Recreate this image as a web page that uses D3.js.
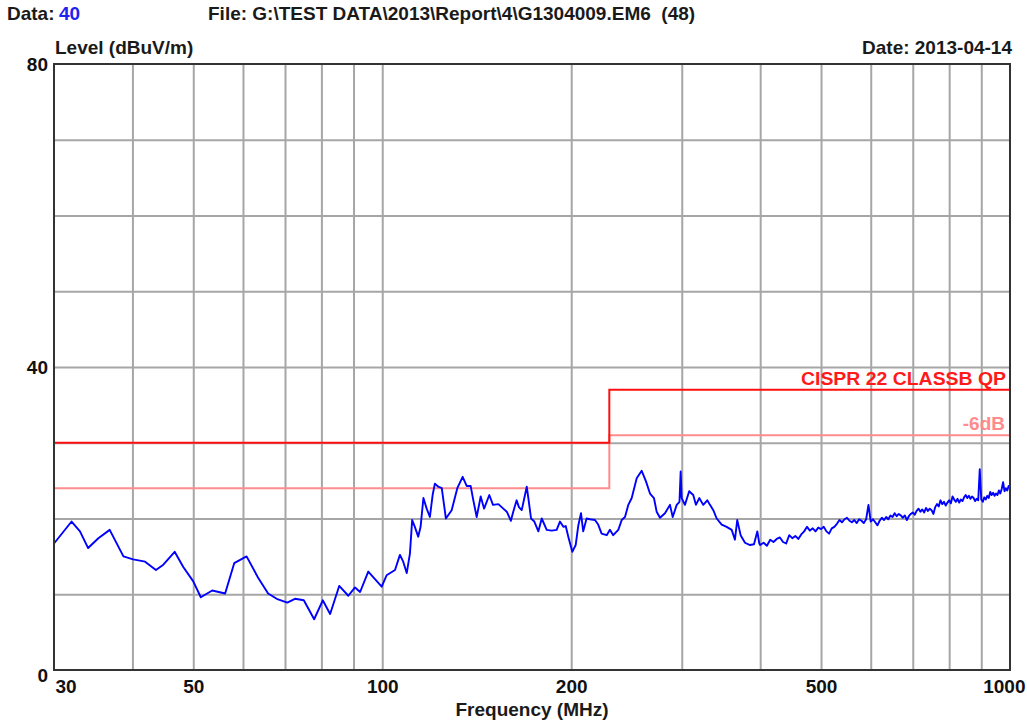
<!DOCTYPE html>
<html>
<head>
<meta charset="utf-8">
<script src="https://cdn.jsdelivr.net/npm/d3@7/dist/d3.min.js"></script>
<style>
html,body{margin:0;padding:0;background:#fff;}
svg{display:block;}
text{font-family:"Liberation Sans",Arial,sans-serif;font-weight:bold;font-size:19px;}
</style>
</head>
<body>
<svg id="chart" width="1027" height="722"></svg>
<script>
// ---- data ----
const freqs = [
30.0,32.0,33.0,34.0,35.3,36.8,38.7,40.1,41.9,43.6,44.8,46.7,48.2,50.0,51.4,53.6,56.2,58.1,60.8,63.5,
65.8,67.9,70.6,72.6,75.0,77.9,80.4,82.6,85.4,88.3,90.5,92.2,95.0,99.8,101.6,
104.8,106.7,108.0,109.4,110.7,111.6,112.7,114.1,115.1,116.3,117.7,119.1,120.3,121.3,122.8,124.4,126.3,129.0,131.7,134.3,
136.3,138.3,139.6,141.4,143.5,145.3,148.1,150.1,153.1,155.9,157.9,160.3,161.7,163.7,165.1,166.8,169.9,170.9,172.6,174.7,
177.3,179.5,182.8,186.2,189.6,191.9,194.3,196.0,198.0,200.8,203.3,205.2,207.3,209.0,211.6,214.2,218.2,220.8,223.6,227.8,
230.5,233.3,237.7,240.7,243.6,246.6,249.7,254.3,259.0,263.1,267.0,270.9,273.6,277.0,282.1,287.3,290.2,294.5,297.5,298.8,
299.9,303.5,308.3,312.9,316.0,319.9,324.6,329.4,332.7,336.8,341.0,347.3,353.7,360.3,364.6,367.7,372.3,378.3,385.3,391.0,
395.8,398.7,
400,405,410,415,420,425,430,435,440,445,450,455,460,465,470,475,480,485,490,495,
500,505,510,515,520,525,530,535,540,545,550,555,560,565,570,575,580,585,590,595,
600,605,610,615,620,625,630,635,640,645,650,655,660,665,670,675,680,685,690,695,
700,705,710,715,720,725,730,735,740,745,750,755,760,765,770,775,780,785,790,795,
800,805,810,815,820,825,830,835,840,845,850,855,860,865,870,875,880,885,890,895,
900,905,910,915,920,925,930,935,940,945,950,955,960,965,970,975,980,985,990,995,1000
];
const levels = [
16.7,19.6,18.3,16.1,17.4,18.5,15.0,14.6,14.3,13.2,13.9,15.6,13.6,11.7,9.6,10.5,10.1,14.1,15.0,12.1,
10.1,9.4,8.9,9.4,9.2,6.7,9.2,7.4,11.1,9.8,10.9,10.3,13.0,11.0,12.5,
13.2,15.2,14.3,12.8,15.4,19.8,18.9,17.6,18.9,22.7,21.3,20.2,23.1,24.6,24.2,24.0,20.0,21.1,24.0,25.5,
24.3,24.3,22.5,20.2,22.9,21.3,23.1,21.8,21.9,21.3,20.9,19.7,20.9,22.4,21.5,21.1,24.2,22.7,20.0,19.6,
18.3,20.0,18.5,18.4,18.5,19.6,18.9,19.0,17.5,15.6,16.5,19.0,20.7,18.3,20.0,19.9,19.8,19.2,18.0,17.8,
18.5,17.8,18.5,19.8,20.2,21.8,22.7,25.3,26.3,24.9,23.3,22.7,20.9,20.1,20.7,21.8,20.2,21.8,22.2,26.2,
22.7,21.8,23.6,23.1,21.8,22.7,21.8,22.4,21.8,21.1,20.0,19.2,18.9,18.5,17.2,19.8,17.8,16.8,16.5,16.6,
18.3,16.7,
16.5,16.8,16.4,17.2,16.9,17.3,17.5,16.9,16.7,17.8,17.4,17.7,17.3,17.9,18.3,18.9,18.4,18.7,18.3,18.8,
18.6,18.9,18.3,18.0,18.7,18.9,19.3,19.8,19.5,19.9,20.1,19.7,19.5,19.8,19.4,19.9,19.7,19.4,19.9,21.8,
19.6,19.9,19.5,19.1,19.7,20.1,19.8,20.2,19.9,20.4,20.2,20.7,20.3,20.6,20.4,20.1,20.4,19.8,20.3,20.6,
20.8,20.5,21.0,21.3,20.9,21.2,20.8,21.4,21.0,21.3,21.1,20.6,21.5,21.9,21.6,22.4,21.9,22.2,21.7,22.1,
22.4,22.0,22.9,22.5,22.2,22.6,22.1,22.5,22.3,22.8,23.1,22.7,23.0,22.6,22.9,22.7,22.3,22.6,22.4,26.5,
22.5,22.2,22.8,22.5,23.0,22.7,23.5,23.1,23.4,23.0,23.3,23.1,23.7,23.3,23.9,24.8,23.6,24.0,23.7,24.3,24.2
];
const limitFreqs = [30, 230, 230, 1000];
const limitLevels = [30, 30, 37, 37];
const marginDb = 6;
const gridFreqs = [40,50,60,70,80,90,100,200,300,400,500,600,700,800,900];
const gridLevels = [10,20,30,40,50,60,70];
const xTickLabels = [30,50,100,200,500,1000];
const yTickLabels = [0,40,80];

// ---- layout ----
const L = 54, R = 1010, T = 64, B = 670;
const svg = d3.select("#chart");
const x = d3.scaleLog().domain([30,1000]).range([L,R]);
const y = d3.scaleLinear().domain([0,80]).range([B,T]);

// header texts
const hdr = svg.append("text").attr("x",7).attr("y",20);
hdr.append("tspan").attr("fill","#1a1a1a").text("Data:");
hdr.append("tspan").attr("x",59).attr("fill","#2222ee").text("40");
svg.append("text").attr("x",208).attr("y",20).attr("fill","#1a1a1a")
  .style("white-space","pre").text("File: G:\\TEST DATA\\2013\\Report\\4\\G1304009.EM6  (48)");
svg.append("text").attr("x",55).attr("y",54).attr("fill","#1a1a1a").text("Level (dBuV/m)");
svg.append("text").attr("x",1012).attr("y",54).attr("text-anchor","end").attr("fill","#1a1a1a").text("Date: 2013-04-14");

// grid
const gx = svg.append("g").attr("transform",`translate(0,${B})`)
  .call(d3.axisBottom(x).tickValues(gridFreqs).tickSize(-(B-T)).tickFormat(""));
gx.select(".domain").remove();
gx.selectAll("line").attr("stroke","#a6a6a6").attr("stroke-width",2);
const gy = svg.append("g").attr("transform",`translate(${L},0)`)
  .call(d3.axisLeft(y).tickValues(gridLevels).tickSize(-(R-L)).tickFormat(""));
gy.select(".domain").remove();
gy.selectAll("line").attr("stroke","#a6a6a6").attr("stroke-width",2);

// limit lines
const lim = limitFreqs.map((f,i)=>({f, v:limitLevels[i]}));
const line = d3.line().x(d=>x(d.f)).y(d=>y(d.v));
svg.append("path").datum(lim.map(d=>({f:d.f, v:d.v-marginDb})))
  .attr("d",line).attr("fill","none").attr("stroke","#ff8c8c").attr("stroke-width",2);
svg.append("path").datum(lim)
  .attr("d",line).attr("fill","none").attr("stroke","#ff1010").attr("stroke-width",2);
svg.append("text").attr("x",1006).attr("y",y(limitLevels[3])-5).attr("text-anchor","end")
  .attr("fill","#ff1a1a").attr("textLength",205).attr("lengthAdjust","spacingAndGlyphs").text("CISPR 22 CLASSB QP");
svg.append("text").attr("x",1005).attr("y",y(limitLevels[3]-marginDb)-5).attr("text-anchor","end")
  .attr("fill","#ff8c8c").text("-6dB");

// trace
const trace = freqs.map((f,i)=>({f, v:levels[i]}));
svg.append("path").datum(trace).attr("d",line).attr("fill","none")
  .attr("stroke","#0000ff").attr("stroke-width",1.9).attr("stroke-linejoin","round");

// frame
svg.append("rect").attr("x",L).attr("y",T).attr("width",R-L).attr("height",B-T)
  .attr("fill","none").attr("stroke","#333").attr("stroke-width",2);

// x tick labels
const ax = svg.append("g").attr("transform",`translate(0,${B})`)
  .call(d3.axisBottom(x).tickValues(xTickLabels).tickSize(0).tickPadding(0).tickFormat(d3.format("d")));
ax.select(".domain").remove();
ax.selectAll("text").attr("y",23).attr("dy",null)
  .attr("fill","#111").style("font-size","19px").style("font-family","Liberation Sans, Arial, sans-serif").style("font-weight","bold")
  .attr("text-anchor",(d,i)=> i===0 ? "start" : (i===xTickLabels.length-1 ? "end" : "middle"))
  .attr("dx",(d,i)=> i===0 ? 1 : (i===xTickLabels.length-1 ? 15 : 0));

// y tick labels
const ay = svg.append("g").attr("transform",`translate(${L},0)`)
  .call(d3.axisLeft(y).tickValues(yTickLabels).tickSize(0).tickPadding(6).tickFormat(d3.format("d")));
ay.select(".domain").remove();
ay.selectAll("text").attr("dy",(d)=> d===0 ? "0.58em" : "0.36em")
  .attr("fill","#111").style("font-size","19px").style("font-family","Liberation Sans, Arial, sans-serif").style("font-weight","bold");

// axis title
svg.append("text").attr("x",(L+R)/2).attr("y",716).attr("text-anchor","middle").attr("fill","#1a1a1a").text("Frequency (MHz)");
</script>
</body>
</html>
